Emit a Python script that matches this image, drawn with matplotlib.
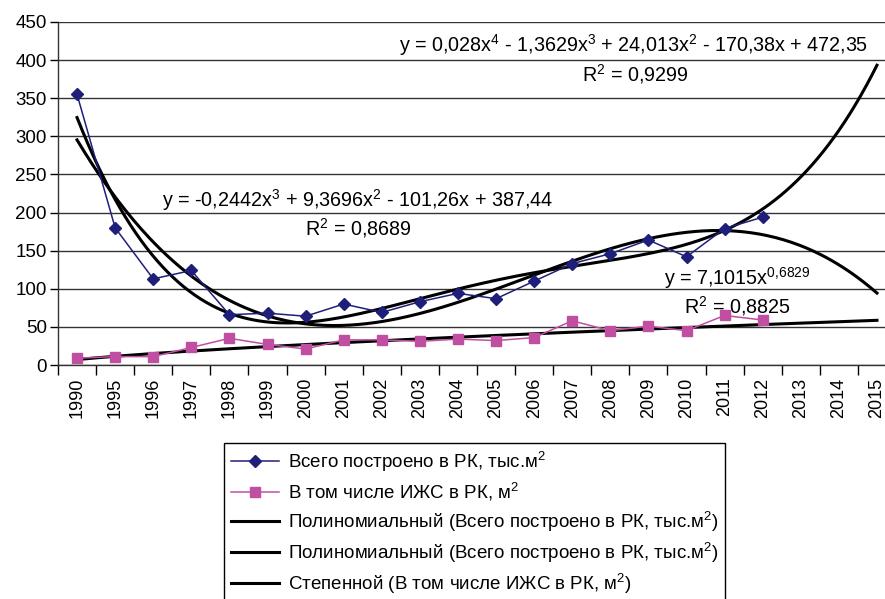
import numpy as np
import matplotlib
matplotlib.use("Agg")
import matplotlib.pyplot as plt

plt.rcParams['font.family'] = ['Liberation Sans', 'DejaVu Sans']
plt.rcParams['mathtext.fontset'] = 'custom'
plt.rcParams['mathtext.rm'] = 'Liberation Sans'
plt.rcParams['mathtext.it'] = 'Liberation Sans'

years = ['1990', '1995', '1996', '1997', '1998', '1999', '2000', '2001', '2002', '2003', '2004',
         '2005', '2006', '2007', '2008', '2009', '2010', '2011', '2012', '2013', '2014', '2015']
total = [355, 180, 113, 124, 66, 68, 64, 80, 69, 83, 94, 87, 110, 133, 146, 164, 142, 179, 194]
izhs = [9, 11, 11, 23, 35, 27, 21, 33, 33, 31, 34, 32, 36, 58, 45, 51, 45, 65, 59]

# trendline coefficients as printed on the chart
poly4 = [0.028, -1.3629, 24.013, -170.38, 472.35]
poly3 = [-0.2442, 9.3696, -101.26, 387.44]
pow_a, pow_b = 7.1015, 0.6829

W, H = 885, 599
fig = plt.figure(figsize=(W / 100, H / 100), dpi=100)
ax = fig.add_axes([58 / W, 1 - 365 / H, (896 - 58) / W, (365 - 22) / H])

xs = np.arange(1, len(years) + 1)
xd = np.arange(1, len(total) + 1)
xf = np.linspace(1, len(years), 300)

ax.plot(xd, total, color='#1f1f7a', lw=1.1, marker='D', ms=6.5, zorder=4,
        label='Всего построено в РК, тыс.м$^2$')
ax.plot(xd, izhs, color='#c04fa2', lw=1.1, marker='s', ms=7, zorder=4,
        label='В том числе ИЖС в РК, м$^2$')
ax.plot(xf, np.polyval(poly4, xf), color='black', lw=2.2, zorder=3,
        label='Полиномиальный (Всего построено в РК, тыс.м$^2$)')
ax.plot(xf, np.polyval(poly3, xf), color='black', lw=2.2, zorder=3,
        label='Полиномиальный (Всего построено в РК, тыс.м$^2$)')
ax.plot(xf, pow_a * xf ** pow_b, color='black', lw=2.2, zorder=3,
        label='Степенной (В том числе ИЖС в РК, м$^2$)')

ax.set_xlim(0.5, len(years) + 0.5)
ax.set_ylim(0, 450)
ax.set_yticks(np.arange(0, 451, 50))
ax.tick_params(axis='y', labelsize=13.5, length=6, width=1, direction='out', pad=2)
ax.grid(axis='y', color='#333333', lw=1)
ax.set_axisbelow(True)

ax.set_xticks(np.arange(0.5, len(years) + 1, 1))
ax.set_xticklabels([])
ax.tick_params(axis='x', which='major', length=7, width=1, direction='out')
ax.set_xticks(xs, minor=True)
ax.set_xticklabels(years, minor=True, rotation=90, fontsize=13)
ax.tick_params(axis='x', which='minor', length=0, pad=9)

for s in ['top', 'right']:
    ax.spines[s].set_visible(False)
for s in ['left', 'bottom']:
    ax.spines[s].set_linewidth(1)
    ax.spines[s].set_color('#333333')

def fx(px):
    return px / W

def fy(py):
    return 1 - py / H

fs = 14.2
fig.text(fx(634), fy(45), 'y = 0,028x$^4$ - 1,3629x$^3$ + 24,013x$^2$ - 170,38x + 472,35',
         ha='center', va='center', fontsize=fs)
fig.text(fx(635), fy(74), 'R$^2$ = 0,9299', ha='center', va='center', fontsize=fs)
fig.text(fx(358), fy(200), 'y = -0,2442x$^3$ + 9,3696x$^2$ - 101,26x + 387,44',
         ha='center', va='center', fontsize=fs)
fig.text(fx(358), fy(228), 'R$^2$ = 0,8689', ha='center', va='center', fontsize=fs)
fig.text(fx(737), fy(278), 'y = 7,1015x$^{0{,}6829}$', ha='center', va='center', fontsize=fs)
fig.text(fx(737), fy(306), 'R$^2$ = 0,8825', ha='center', va='center', fontsize=fs)

leg = fig.legend(loc='upper left', bbox_to_anchor=(fx(224), fy(443)), fontsize=13.5,
                 frameon=True, fancybox=False, edgecolor='black', framealpha=1,
                 handlelength=2.6, handletextpad=0.45, labelspacing=0.37,
                 borderpad=0.35, borderaxespad=0)
leg.get_frame().set_linewidth(1)

fig.savefig('out.png', dpi=100)
